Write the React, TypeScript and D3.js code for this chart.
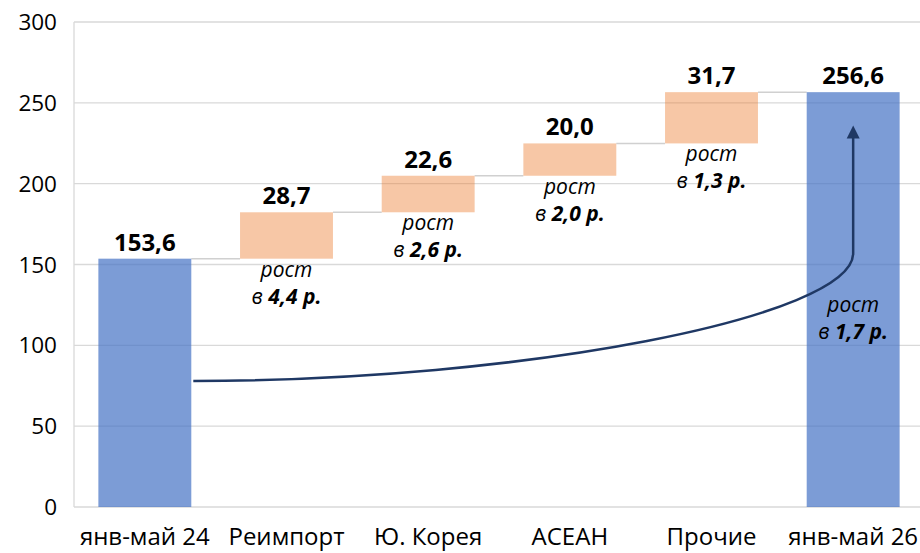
import React from "react";
import * as d3 from "d3";

const categories = ["янв-май 24", "Реимпорт", "Ю. Корея", "АСЕАН", "Прочие", "янв-май 26"];
const values = [153.6, 28.7, 22.6, 20.0, 31.7, 256.6];
const kinds = ["total", "delta", "delta", "delta", "delta", "total"];
const growthMultipliers = ["", "4,4", "2,6", "2,0", "1,3", "1,7"];
const yTicks = [0, 50, 100, 150, 200, 250, 300];
const arrowStartValue = 78;
const arrowBendValue = 157;
const arrowTipValue = 236;
const lastGrowthLabelValue = 120.5;

const W = 920;
const H = 553;
const FONT = "'Open Sans', 'Noto Sans', sans-serif";
const fmt = (v: number) => v.toFixed(1).replace(".", ",");

export default function App() {
  const x = d3.scaleBand<string>().domain(categories).range([74, 924]).paddingInner(0.344).paddingOuter(0.172);
  const y = d3.scaleLinear().domain([0, 300]).range([507, 22]);
  const bw = x.bandwidth();

  let cum = 0;
  const bars = categories.map((c, i) => {
    let lo: number, hi: number;
    if (kinds[i] === "total") {
      lo = 0;
      hi = values[i];
      cum = values[i];
    } else {
      lo = cum;
      hi = cum + values[i];
      cum = hi;
    }
    return { c, i, lo, hi, kind: kinds[i], v: values[i] };
  });

  const x0 = (x(categories[0]) as number) + bw + 2;
  const xe = (x(categories[5]) as number) + bw / 2;
  const ys = y(arrowStartValue);
  const yb = y(arrowBendValue);
  const yt = y(arrowTipValue);
  const k = 0.5;
  const p = d3.path();
  p.moveTo(x0, ys);
  p.bezierCurveTo(x0 + (xe - x0) * k, ys, xe, yb + (ys - yb) * k, xe, yb);
  p.lineTo(xe, yt + 11);
  const navy = "#1f3864";

  return (
    <div style={{ position: "fixed", left: 0, top: 0 }}>
      <svg width={W} height={H} style={{ display: "block", background: "#fff" }}>
        {yTicks.map((t) => (
          <line key={"g" + t} x1={74} x2={W} y1={y(t)} y2={y(t)} stroke="#d9d9d9" strokeWidth={1.3} />
        ))}
        <line x1={74} x2={74} y1={y(300)} y2={y(0)} stroke="#d9d9d9" strokeWidth={1.3} />
        {yTicks.map((t) => (
          <text key={"t" + t} x={57} y={y(t)} dy="0.36em" textAnchor="end" fontFamily={FONT} fontSize={22.5} fill="#000">
            {t}
          </text>
        ))}
        {bars.slice(0, -1).map((b, i) => {
          const nx = x(categories[i + 1]) as number;
          return (
            <line key={"c" + i} x1={(x(b.c) as number) + bw} x2={nx} y1={y(b.hi)} y2={y(b.hi)} stroke="#d0d0d0" strokeWidth={1.5} />
          );
        })}
        {bars.map((b) => (
          <rect
            key={"b" + b.i}
            x={x(b.c)}
            y={y(b.hi)}
            width={bw}
            height={y(b.lo) - y(b.hi)}
            fill={b.kind === "total" ? "#4472c4" : "#ed7d31"}
            fillOpacity={b.kind === "total" ? 0.7 : 0.43}
          />
        ))}
        {bars.map((b) => (
          <text
            key={"v" + b.i}
            x={(x(b.c) as number) + bw / 2}
            y={y(b.hi) - 8}
            textAnchor="middle"
            fontFamily={FONT}
            fontSize={24}
            fontWeight="bold"
            fill="#000"
          >
            {fmt(b.v)}
          </text>
        ))}
        {bars.map((b) => {
          if (!growthMultipliers[b.i]) return null;
          const cx = (x(b.c) as number) + bw / 2;
          const base = b.kind === "total" ? y(lastGrowthLabelValue) : y(b.lo) + 18;
          return (
            <g key={"gr" + b.i} fontFamily={FONT} fontSize={21} fontStyle="italic" fill="#000" textAnchor="middle">
              <text x={cx} y={base}>рост</text>
              <text x={cx} y={base + 27}>
                <tspan>в </tspan>
                <tspan fontWeight="bold">{growthMultipliers[b.i] + " р."}</tspan>
              </text>
            </g>
          );
        })}
        <path d={p.toString()} fill="none" stroke={navy} strokeWidth={2.5} />
        <path d={`M${xe},${yt} L${xe - 6.5},${yt + 13} L${xe + 6.5},${yt + 13} Z`} fill={navy} />
        {categories.map((c) => (
          <text key={"x" + c} x={(x(c) as number) + bw / 2} y={545} textAnchor="middle" fontFamily={FONT} fontSize={24} fill="#000">
            {c}
          </text>
        ))}
      </svg>
    </div>
  );
}
